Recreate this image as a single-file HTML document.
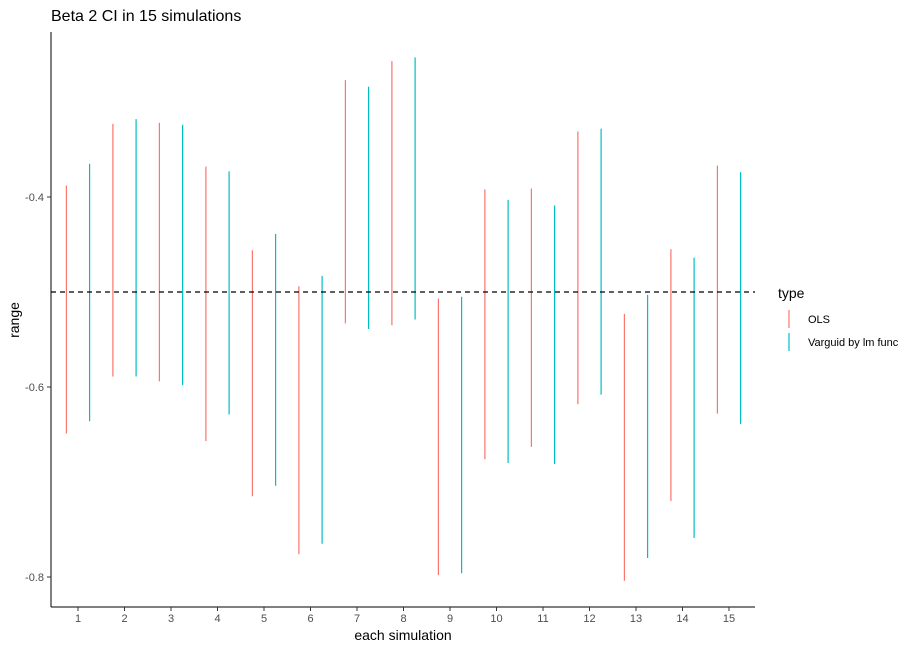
<!DOCTYPE html>
<html><head><meta charset="utf-8"><style>
body{margin:0;background:#fff;}
svg{display:block;font-family:"Liberation Sans",sans-serif;}
</style></head><body>
<svg id="chart" width="920" height="650"></svg>
<script>
const categories=[1,2,3,4,5,6,7,8,9,10,11,12,13,14,15];
const olsLow=[-0.649,-0.589,-0.594,-0.657,-0.715,-0.776,-0.533,-0.535,-0.798,-0.676,-0.663,-0.618,-0.804,-0.720,-0.628];
const olsHigh=[-0.388,-0.323,-0.322,-0.368,-0.456,-0.494,-0.277,-0.257,-0.507,-0.392,-0.391,-0.331,-0.523,-0.455,-0.367];
const vLow=[-0.636,-0.589,-0.598,-0.629,-0.704,-0.765,-0.539,-0.529,-0.796,-0.680,-0.681,-0.608,-0.780,-0.759,-0.639];
const vHigh=[-0.365,-0.318,-0.324,-0.373,-0.439,-0.483,-0.284,-0.253,-0.505,-0.403,-0.409,-0.328,-0.503,-0.464,-0.374];
const yTicks=[-0.4,-0.6,-0.8];
const refValue=-0.5;
const NS="http://www.w3.org/2000/svg";
const svg=document.getElementById('chart');
function X(c){return 78+(c-1)*46.5;}
function Y(v){return 197+(-0.4-v)*950;}
function mk(t,a,txt){const e=document.createElementNS(NS,t);for(const k in a)e.setAttribute(k,a[k]);if(txt!==undefined)e.textContent=txt;svg.appendChild(e);return e;}
let e;
e=mk('text',{x:51,y:21,'font-size':16,fill:'#000'},'Beta 2 CI in 15 simulations');


e=mk('line',{x1:51,y1:32,x2:51,y2:607,stroke:'#000','stroke-width':1});


e=mk('line',{x1:51,y1:607,x2:755,y2:607,stroke:'#000','stroke-width':1});


yTicks.forEach(v=>{
  e=mk('line',{x1:47,x2:51,y1:Y(v),y2:Y(v),stroke:'#333'});
  
  
  e=mk('text',{x:44,y:Y(v)+4,'font-size':11,fill:'#4d4d4d','text-anchor':'end'},v.toFixed(1));
  
  
});
categories.forEach(c=>{
  e=mk('line',{x1:X(c),x2:X(c),y1:607,y2:611,stroke:'#333'});
  
  
  e=mk('text',{x:X(c),y:622,'font-size':11,fill:'#4d4d4d','text-anchor':'middle'},String(c));
  
  
});
e=mk('text',{x:403,y:640,'font-size':14,'text-anchor':'middle',fill:'#000'},'each simulation');


e=mk('text',{x:19,y:320,'font-size':14,'text-anchor':'middle',fill:'#000',transform:'rotate(-90 19 320)'},'range');


categories.forEach((c,i)=>{
  e=mk('line',{x1:X(c)-11.6,x2:X(c)-11.6,y1:Y(olsHigh[i]),y2:Y(olsLow[i]),stroke:'#F8766D','stroke-width':1.2});
  
  
  e=mk('line',{x1:X(c)+11.6,x2:X(c)+11.6,y1:Y(vHigh[i]),y2:Y(vLow[i]),stroke:'#00BFC4','stroke-width':1.2});
  
  
});
e=mk('line',{x1:51,x2:755,y1:Y(refValue),y2:Y(refValue),stroke:'#000','stroke-width':1.2,'stroke-dasharray':'5,4'});


e=mk('text',{x:778,y:298,'font-size':14,fill:'#000'},'type');


e=mk('line',{x1:789,x2:789,y1:310,y2:328,stroke:'#F8766D','stroke-width':1.2});


e=mk('text',{x:808,y:323,'font-size':11,fill:'#000'},'OLS');


e=mk('line',{x1:789,x2:789,y1:333,y2:351,stroke:'#00BFC4','stroke-width':1.2});


e=mk('text',{x:808,y:346,'font-size':11,fill:'#000'},'Varguid by lm func');


</script>
</body></html>
